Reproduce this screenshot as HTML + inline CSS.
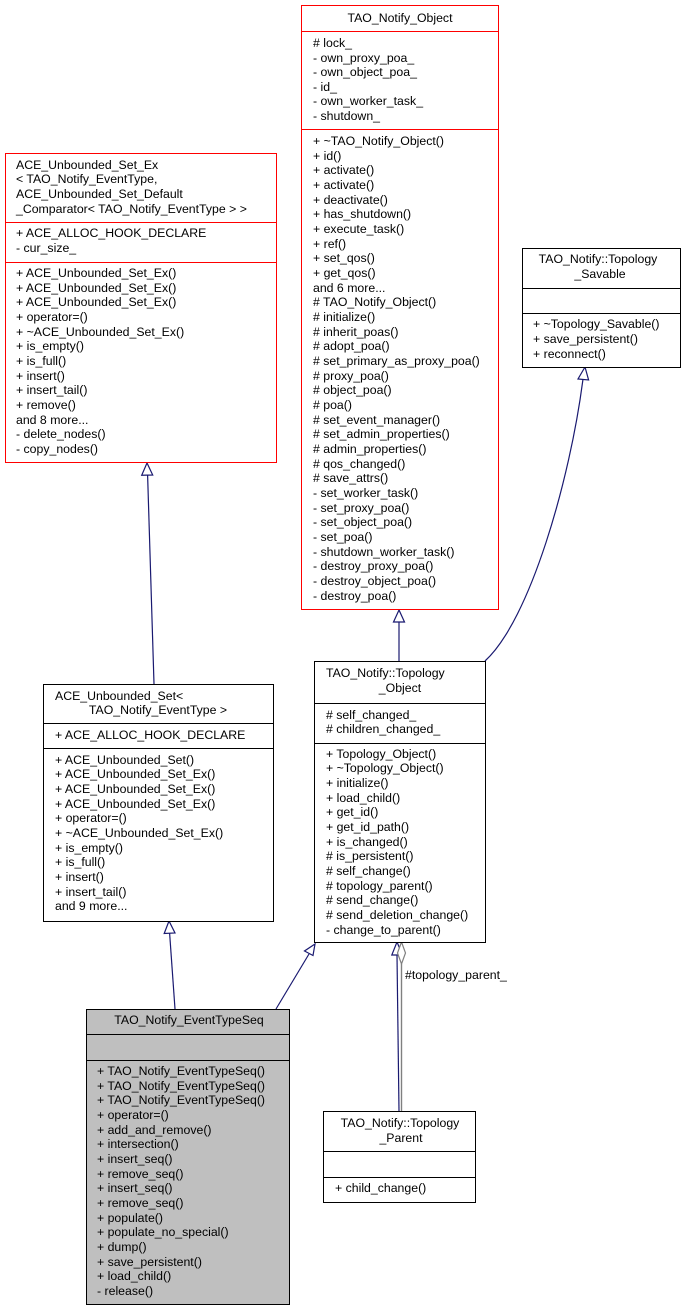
<!DOCTYPE html>
<html><head><meta charset="utf-8"><style>
html,body{margin:0;padding:0;background:#fff;}
svg{display:block;}
text{font-family:"Liberation Sans",sans-serif;font-size:12.3px;fill:#000;}
</style></head><body>
<svg width="685" height="1312" viewBox="0 0 685 1312" xmlns="http://www.w3.org/2000/svg">
<!-- edges -->
<g stroke="#191970" fill="none" stroke-width="1.2">
<path d="M175,1009 L169.6,933"/>
<path d="M276,1009 L309,954"/>
<path d="M154,684 L147.6,475"/>
<path d="M399,661 L399,622"/>
<path d="M485,661 C530,620 570,480 583,379"/>
<path d="M399,1111 L397,955"/>
</g>
<path d="M401.5,1111 L401.5,964" stroke="#808080" stroke-width="1.4" fill="none"/>
<g stroke="#191970" fill="#fff" stroke-width="1.2">
<polygon points="169,921 164.2,933.5 175,933"/>
<polygon points="315,944 304.5,951 313,955.5"/>
<polygon points="147,463 141.7,475.2 152.7,475"/>
<polygon points="399,610 393.5,622 404.5,622"/>
<polygon points="585,367 578,379 588.6,380"/>
<polygon points="397,942 391.8,955 402.5,955"/>
</g>
<polygon points="401.5,942 397.5,953 401.5,964 405.5,953" stroke="#808080" fill="#fff" stroke-width="1.2"/>
<text x="405" y="979">#topology_parent_</text>

<!-- TAO_Notify_Object -->
<g fill="#fff" stroke="#ff0000" stroke-width="1">
<rect x="301.5" y="5.5" width="197" height="604"/>
<line x1="301.5" y1="31.5" x2="498.5" y2="31.5"/>
<line x1="301.5" y1="129.5" x2="498.5" y2="129.5"/>
</g>
<text x="400" y="22" text-anchor="middle">TAO_Notify_Object</text>
<g>
<text x="313" y="47">#  lock_</text>
<text x="313" y="62">- own_proxy_poa_</text>
<text x="313" y="76">- own_object_poa_</text>
<text x="313" y="91">- id_</text>
<text x="313" y="105">- own_worker_task_</text>
<text x="313" y="120">- shutdown_</text>
</g>
<g>
<text x="313" y="145">+ ~TAO_Notify_Object()</text>
<text x="313" y="160">+ id()</text>
<text x="313" y="174">+ activate()</text>
<text x="313" y="189">+ activate()</text>
<text x="313" y="204">+ deactivate()</text>
<text x="313" y="218">+ has_shutdown()</text>
<text x="313" y="233">+ execute_task()</text>
<text x="313" y="248">+ ref()</text>
<text x="313" y="262">+ set_qos()</text>
<text x="313" y="277">+ get_qos()</text>
<text x="313" y="292">and 6 more...</text>
<text x="313" y="306">#  TAO_Notify_Object()</text>
<text x="313" y="321">#  initialize()</text>
<text x="313" y="336">#  inherit_poas()</text>
<text x="313" y="350">#  adopt_poa()</text>
<text x="313" y="365">#  set_primary_as_proxy_poa()</text>
<text x="313" y="380">#  proxy_poa()</text>
<text x="313" y="394">#  object_poa()</text>
<text x="313" y="409">#  poa()</text>
<text x="313" y="424">#  set_event_manager()</text>
<text x="313" y="438">#  set_admin_properties()</text>
<text x="313" y="453">#  admin_properties()</text>
<text x="313" y="468">#  qos_changed()</text>
<text x="313" y="482">#  save_attrs()</text>
<text x="313" y="497">- set_worker_task()</text>
<text x="313" y="512">- set_proxy_poa()</text>
<text x="313" y="526">- set_object_poa()</text>
<text x="313" y="541">- set_poa()</text>
<text x="313" y="556">- shutdown_worker_task()</text>
<text x="313" y="570">- destroy_proxy_poa()</text>
<text x="313" y="585">- destroy_object_poa()</text>
<text x="313" y="600">- destroy_poa()</text>
</g>

<!-- ACE_Unbounded_Set_Ex -->
<g fill="#fff" stroke="#ff0000" stroke-width="1">
<rect x="5.5" y="153.5" width="271" height="309"/>
<line x1="5.5" y1="222.5" x2="276.5" y2="222.5"/>
<line x1="5.5" y1="262.5" x2="276.5" y2="262.5"/>
</g>
<text x="16" y="169">ACE_Unbounded_Set_Ex</text>
<text x="16" y="183">&lt; TAO_Notify_EventType,</text>
<text x="16" y="198"> ACE_Unbounded_Set_Default</text>
<text x="16" y="213">_Comparator&lt; TAO_Notify_EventType &gt; &gt;</text>
<text x="16" y="237">+ ACE_ALLOC_HOOK_DECLARE</text>
<text x="16" y="252">- cur_size_</text>
<text x="16" y="277">+ ACE_Unbounded_Set_Ex()</text>
<text x="16" y="292">+ ACE_Unbounded_Set_Ex()</text>
<text x="16" y="306">+ ACE_Unbounded_Set_Ex()</text>
<text x="16" y="321">+ operator=()</text>
<text x="16" y="336">+ ~ACE_Unbounded_Set_Ex()</text>
<text x="16" y="350">+ is_empty()</text>
<text x="16" y="365">+ is_full()</text>
<text x="16" y="380">+ insert()</text>
<text x="16" y="394">+ insert_tail()</text>
<text x="16" y="409">+ remove()</text>
<text x="16" y="424">and 8 more...</text>
<text x="16" y="438">- delete_nodes()</text>
<text x="16" y="453">- copy_nodes()</text>

<!-- Topology_Savable -->
<g fill="#fff" stroke="#000" stroke-width="1">
<rect x="522.5" y="248.5" width="158" height="119"/>
<line x1="522.5" y1="288.5" x2="680.5" y2="288.5"/>
<line x1="522.5" y1="313.5" x2="680.5" y2="313.5"/>
</g>
<text x="598" y="263" text-anchor="middle">TAO_Notify::Topology</text>
<text x="600" y="278" text-anchor="middle">_Savable</text>
<text x="533" y="328">+ ~Topology_Savable()</text>
<text x="533" y="343">+ save_persistent()</text>
<text x="533" y="358">+ reconnect()</text>

<!-- Topology_Object -->
<g fill="#fff" stroke="#000" stroke-width="1">
<rect x="314.5" y="661.5" width="171" height="281"/>
<line x1="314.5" y1="703.5" x2="485.5" y2="703.5"/>
<line x1="314.5" y1="743.5" x2="485.5" y2="743.5"/>
</g>
<text x="326" y="677">TAO_Notify::Topology</text>
<text x="400" y="692" text-anchor="middle">_Object</text>
<text x="326" y="719">#  self_changed_</text>
<text x="326" y="733">#  children_changed_</text>
<text x="326" y="758">+ Topology_Object()</text>
<text x="326" y="772">+ ~Topology_Object()</text>
<text x="326" y="787">+ initialize()</text>
<text x="326" y="802">+ load_child()</text>
<text x="326" y="816">+ get_id()</text>
<text x="326" y="831">+ get_id_path()</text>
<text x="326" y="846">+ is_changed()</text>
<text x="326" y="860">#  is_persistent()</text>
<text x="326" y="875">#  self_change()</text>
<text x="326" y="890">#  topology_parent()</text>
<text x="326" y="904">#  send_change()</text>
<text x="326" y="919">#  send_deletion_change()</text>
<text x="326" y="934">- change_to_parent()</text>

<!-- ACE_Unbounded_Set -->
<g fill="#fff" stroke="#000" stroke-width="1">
<rect x="43.5" y="684.5" width="230" height="237"/>
<line x1="43.5" y1="723.5" x2="273.5" y2="723.5"/>
<line x1="43.5" y1="748.5" x2="273.5" y2="748.5"/>
</g>
<text x="55" y="700">ACE_Unbounded_Set&lt;</text>
<text x="158" y="714" text-anchor="middle">TAO_Notify_EventType &gt;</text>
<text x="55" y="739">+ ACE_ALLOC_HOOK_DECLARE</text>
<text x="55" y="764">+ ACE_Unbounded_Set()</text>
<text x="55" y="778">+ ACE_Unbounded_Set_Ex()</text>
<text x="55" y="793">+ ACE_Unbounded_Set_Ex()</text>
<text x="55" y="808">+ ACE_Unbounded_Set_Ex()</text>
<text x="55" y="822">+ operator=()</text>
<text x="55" y="837">+ ~ACE_Unbounded_Set_Ex()</text>
<text x="55" y="852">+ is_empty()</text>
<text x="55" y="866">+ is_full()</text>
<text x="55" y="881">+ insert()</text>
<text x="55" y="896">+ insert_tail()</text>
<text x="55" y="910">and 9 more...</text>

<!-- EventTypeSeq -->
<g fill="#bfbfbf" stroke="#000" stroke-width="1">
<rect x="86.5" y="1009.5" width="203" height="295"/>
<line x1="86.5" y1="1034.5" x2="289.5" y2="1034.5"/>
<line x1="86.5" y1="1060.5" x2="289.5" y2="1060.5"/>
</g>
<text x="189" y="1024" text-anchor="middle">TAO_Notify_EventTypeSeq</text>
<text x="97" y="1075">+ TAO_Notify_EventTypeSeq()</text>
<text x="97" y="1090">+ TAO_Notify_EventTypeSeq()</text>
<text x="97" y="1104">+ TAO_Notify_EventTypeSeq()</text>
<text x="97" y="1119">+ operator=()</text>
<text x="97" y="1134">+ add_and_remove()</text>
<text x="97" y="1148">+ intersection()</text>
<text x="97" y="1163">+ insert_seq()</text>
<text x="97" y="1178">+ remove_seq()</text>
<text x="97" y="1192">+ insert_seq()</text>
<text x="97" y="1207">+ remove_seq()</text>
<text x="97" y="1222">+ populate()</text>
<text x="97" y="1236">+ populate_no_special()</text>
<text x="97" y="1251">+ dump()</text>
<text x="97" y="1266">+ save_persistent()</text>
<text x="97" y="1280">+ load_child()</text>
<text x="97" y="1295">- release()</text>

<!-- Topology_Parent -->
<g fill="#fff" stroke="#000" stroke-width="1">
<rect x="323.5" y="1111.5" width="152" height="91"/>
<line x1="323.5" y1="1151.5" x2="475.5" y2="1151.5"/>
<line x1="323.5" y1="1177.5" x2="475.5" y2="1177.5"/>
</g>
<text x="400" y="1127" text-anchor="middle">TAO_Notify::Topology</text>
<text x="401" y="1142" text-anchor="middle">_Parent</text>
<text x="335" y="1192">+ child_change()</text>
</svg>
</body></html>
